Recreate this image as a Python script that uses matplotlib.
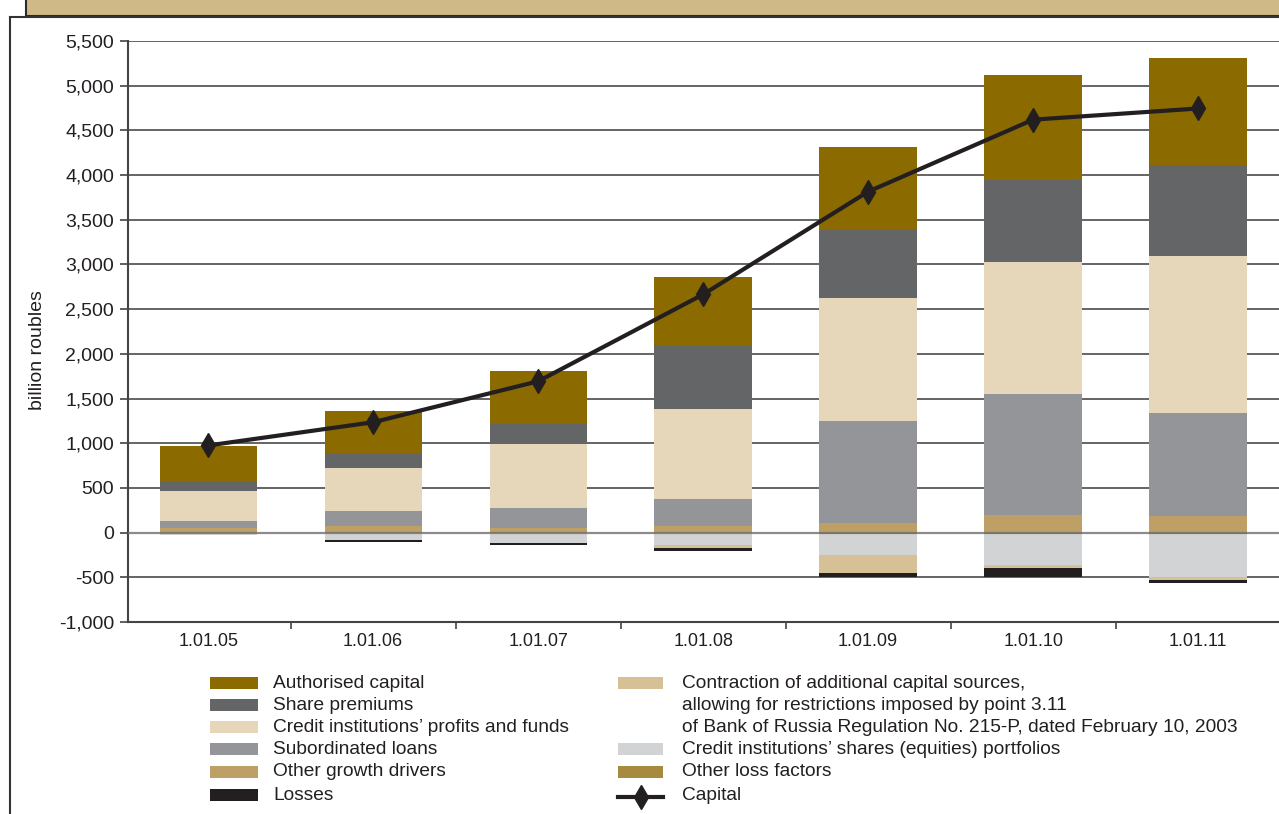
import matplotlib
matplotlib.use("Agg")
import matplotlib.pyplot as plt
from matplotlib.patches import Rectangle
from matplotlib.lines import Line2D

plt.rcParams['font.family'] = ['Liberation Sans', 'DejaVu Sans']
plt.rcParams['axes.unicode_minus'] = False

dates = ["1.01.05", "1.01.06", "1.01.07", "1.01.08", "1.01.09", "1.01.10", "1.01.11"]

# growth sources, billion roubles (stacked upwards)
other_growth = [56, 78, 56, 78, 113, 192, 185]
subordinated = [77, 166, 220, 299, 1137, 1361, 1148]
profits = [337, 480, 717, 1010, 1374, 1477, 1764]
share_premiums = [108, 157, 221, 703, 761, 913, 1018]
authorised = [392, 484, 597, 775, 925, 1172, 1196]

# reducing factors (stacked downwards)
other_loss = [-3, -3, -3, -3, -10, -20, -20]
shares = [-27, -75, -109, -131, -238, -341, -480]
contraction = [0, 0, 0, -34, -203, -34, -30]
losses = [0, -30, -30, -33, -49, -105, -34]

capital = [975, 1235, 1693, 2665, 3815, 4620, 4745]

yticks = list(range(-1000, 5501, 500))

c_auth = "#8b6a00"
c_prem = "#646567"
c_prof = "#e6d6ba"
c_sub = "#949599"
c_grow = "#bea066"
c_loss = "#231f20"
c_contr = "#d5c195"
c_shares = "#d2d3d5"
c_oloss = "#a88a3e"

W, H = 1279, 814
fig = plt.figure(figsize=(W / 100, H / 100), dpi=100)

# frame: tan band on top and the box outline
fig.add_artist(Rectangle((26 / W, 1 - 16 / H), 1, 16 / H + 0.01, transform=fig.transFigure,
                         facecolor="#cfb987", edgecolor="#2a2a2a", lw=1.5))
fig.add_artist(Line2D([10 / W, 10 / W], [0, 1 - 17 / H], transform=fig.transFigure, color="#333333", lw=1.5))
fig.add_artist(Line2D([10 / W, 1], [1 - 17 / H, 1 - 17 / H], transform=fig.transFigure, color="#333333", lw=1.5))

ax = fig.add_axes([128 / W, (H - 622) / H, 1151 / W, 581 / H])
x = list(range(len(dates)))
width = 0.59

bottom = [0] * len(dates)
for vals, col in [(other_growth, c_grow), (subordinated, c_sub), (profits, c_prof),
                  (share_premiums, c_prem), (authorised, c_auth)]:
    ax.bar(x, vals, width, bottom=bottom, color=col, zorder=2)
    bottom = [b + v for b, v in zip(bottom, vals)]

bottom = [0] * len(dates)
for vals, col in [(other_loss, c_oloss), (shares, c_shares), (contraction, c_contr), (losses, c_loss)]:
    ax.bar(x, vals, width, bottom=bottom, color=col, zorder=2)
    bottom = [b + v for b, v in zip(bottom, vals)]

ax.plot(x, capital, color="#231f20", lw=3, marker="d", markersize=12, zorder=5)

for t in yticks:
    if t == 0:
        ax.axhline(0, color="#6e6e6e", lw=1.6, alpha=0.8, zorder=3)
    else:
        ax.axhline(t, color="#4a4a4a", lw=1.2, zorder=1)

ax.set_xlim(-0.486, 6.49)
ax.set_ylim(-1000, 5500)
ax.set_yticks(yticks)
ax.set_yticklabels(["{:,}".format(t) for t in yticks], fontsize=14, color="#231f20")
ax.set_xticks(x)
ax.set_xticklabels(dates, fontsize=13, color="#231f20")
ax.set_xticks([i + 0.5 for i in range(6)], minor=True)
ax.tick_params(axis="x", which="major", length=0, pad=8)
ax.tick_params(axis="x", which="minor", length=5, width=1.2, color="#444444")
ax.tick_params(axis="y", length=6, width=1.2, color="#444444", pad=4)

for s in ["top", "right"]:
    ax.spines[s].set_visible(False)
ax.spines["left"].set_color("#444444")
ax.spines["left"].set_linewidth(1.5)
ax.spines["bottom"].set_color("#444444")
ax.spines["bottom"].set_linewidth(1.5)

fig.text(38 / W, 1 - 350 / H, "billion roubles", rotation=90, ha="center", va="center",
         fontsize=14, color="#231f20")

# legend
left_items = [("Authorised capital", c_auth), ("Share premiums", c_prem),
              ("Credit institutions\u2019 profits and funds", c_prof),
              ("Subordinated loans", c_sub), ("Other growth drivers", c_grow), ("Losses", c_loss)]
row_y = [683, 705, 727, 749, 772, 795]
for (label, col), yy in zip(left_items, row_y):
    fig.add_artist(Rectangle((210 / W, 1 - (yy + 6) / H), 48 / W, 12 / H,
                             transform=fig.transFigure, facecolor=col, edgecolor="none"))
    fig.text(273 / W, 1 - yy / H, label, ha="left", va="center", fontsize=13.8, color="#231f20")

right_text = [("Contraction of additional capital sources,", None),
              ("allowing for restrictions imposed by point 3.11", None),
              ("of Bank of Russia Regulation No. 215-P, dated February 10, 2003", None),
              ("Credit institutions\u2019 shares (equities) portfolios", c_shares),
              ("Other loss factors", c_oloss)]
for i, ((label, col), yy) in enumerate(zip(right_text, row_y)):
    fcol = c_contr if i == 0 else col
    if fcol is not None:
        fig.add_artist(Rectangle((618 / W, 1 - (yy + 6) / H), 45 / W, 12 / H,
                                 transform=fig.transFigure, facecolor=fcol, edgecolor="none"))
    fig.text(682 / W, 1 - yy / H, label, ha="left", va="center", fontsize=13.8, color="#231f20")

fig.add_artist(Line2D([618 / W, 663 / W], [1 - 797 / H, 1 - 797 / H], transform=fig.transFigure,
                      color="#231f20", lw=3))
fig.add_artist(Line2D([640.5 / W], [1 - 797 / H], transform=fig.transFigure,
                      color="#231f20", marker="d", markersize=12, lw=0))
fig.text(682 / W, 1 - 795 / H, "Capital", ha="left", va="center", fontsize=13.8, color="#231f20")

fig.savefig("out.png", dpi=100)
